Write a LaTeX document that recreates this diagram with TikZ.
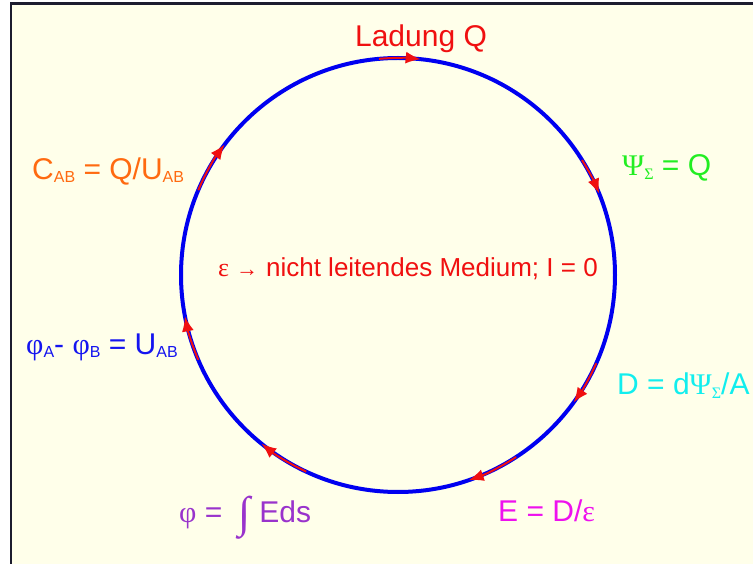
\documentclass[tikz,border=0pt]{standalone}
\usepackage{fontspec}
\setmainfont{Liberation Sans}
\newfontfamily\grk{Liberation Serif}
\usetikzlibrary{arrows.meta}
\definecolor{bgyellow}{HTML}{FFFFEA}
\definecolor{framecol}{HTML}{1C1C2E}
\definecolor{circblue}{HTML}{0000F0}
\definecolor{arrred}{HTML}{F01010}
\definecolor{lblred}{HTML}{F01010}
\definecolor{lblgreen}{HTML}{22EE22}
\definecolor{lblcyan}{HTML}{11EEEE}
\definecolor{lblmagenta}{HTML}{EE11EE}
\definecolor{lblpurple}{HTML}{9933CC}
\definecolor{lblblue}{HTML}{1414F0}
\definecolor{lblorange}{HTML}{FF6A10}
\newcommand{\sbs}[1]{\raisebox{-3pt}{\fontsize{16}{16}\selectfont #1}}
\newcommand{\gsb}[1]{\raisebox{-4pt}{\fontsize{16}{16}\selectfont\grk #1}}
\begin{document}
\begin{tikzpicture}[x=1pt,y=1pt,
  lbl/.style={inner sep=0pt, anchor=base west, font=\fontsize{30}{30}\selectfont},
  flow/.style={draw=arrred, line width=2pt, -{Latex[length=15pt,width=12pt]}},
]
\useasboundingbox (0,0) rectangle (753,563);
\clip (0,0) rectangle (753,563);
\fill[white] (0,0) rectangle (753,563);
\draw[draw=framecol, line width=2.5pt, fill=bgyellow] (11,-20) rectangle (780,559.5);
\coordinate (c) at (398,288);
\draw[circblue, line width=4pt] (c) circle[radius=217];
\foreach \a/\b in {95/84, 32/22, -24/-36, -57/-71, 245/231, 203/191, 157/143}
  \draw[flow] (c) ++(\a:217) arc[start angle=\a, end angle=\b, radius=217];
\node[lbl, anchor=base, text=lblred] (q) at (421,516) {Ladung Q};
\node[lbl, text=lblgreen] (psi) at (622,387) {{\grk Ψ}\gsb{Σ} = Q};
\node[lbl, text=lblcyan] (d) at (617,168) {D = d{\grk Ψ}\gsb{Σ}/A};
\node[lbl, text=lblmagenta] (e) at (498,42) {E = D/{\grk ε}};
\node[lbl, text=lblpurple] (phi) at (179,41) {{\grk φ} =\hspace{16pt}\raisebox{-5pt}{\fontsize{44}{44}\selectfont\grk\itshape ∫}\hspace{9pt}Eds};
\node[lbl, text=lblblue] (u) at (26,208) {{\grk φ}\sbs{A}- {\grk φ}\sbs{B} = U\sbs{AB}};
\node[lbl, text=lblorange] (cap) at (32,383) {C\sbs{AB} = Q/U\sbs{AB}};
\node[lbl, text=lblred, font=\fontsize{26}{26}\selectfont] (mid) at (218,286)
  {{\grk ε\hspace{7pt}\fontsize{22}{22}\selectfont →}\hspace{8pt}nicht leitendes Medium; I = 0};
\end{tikzpicture}
\end{document}
